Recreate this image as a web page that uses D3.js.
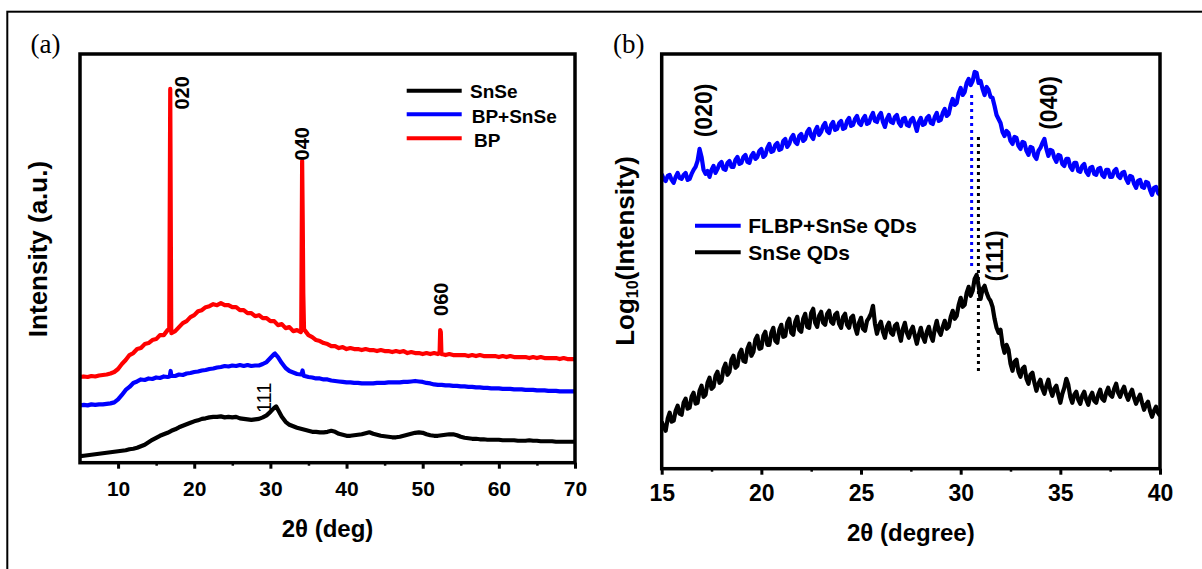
<!DOCTYPE html>
<html>
<head>
<meta charset="utf-8">
<script src="https://cdn.jsdelivr.net/npm/d3@7"></script>
<style>
  body { margin: 0; background: #fff; }
  svg { display: block; }
</style>
</head>
<body>
<svg id="fig" width="1202" height="569"></svg>
<script>
// ---------- Panel (a): XRD patterns, 2θ from 5° to 70° in 0.5° steps ----------
const angleStartA = 5, angleStepA = 0.5;
const seriesNamesA = ["SnSe", "BP+SnSe", "BP"];
const intensitySnSe = [
  65, 70, 75, 80, 85, 90, 95, 100, 105, 110,
  115, 120, 125, 135, 140, 150, 165, 180, 205, 230,
  250, 270, 285, 300, 320, 335, 355, 370, 385, 400,
  415, 425, 440, 445, 455, 460, 460, 465, 455, 460,
  455, 460, 445, 440, 435, 430, 435, 440, 455, 475,
  510, 550, 530, 460, 410, 380, 365, 350, 340, 330,
  320, 310, 310, 305, 305, 310, 320, 310, 290, 280,
  270, 270, 275, 280, 285, 295, 305, 290, 280, 270,
  265, 260, 255, 255, 260, 270, 280, 290, 300, 305,
  300, 285, 275, 270, 270, 275, 280, 285, 285, 275,
  260, 250, 245, 240, 240, 235, 235, 230, 230, 230,
  230, 225, 225, 225, 225, 220, 220, 220, 225, 220,
  220, 215, 215, 215, 215, 210, 210, 210, 210, 210,
  210
];
const intensityBPSnSe = [
  575, 580, 575, 585, 580, 585, 585, 590, 595, 605,
  635, 680, 730, 760, 800, 815, 835, 830, 845, 840,
  855, 850, 865, 860, 875, 870, 885, 880, 895, 900,
  910, 915, 925, 930, 940, 945, 955, 960, 970, 965,
  975, 970, 980, 970, 980, 970, 975, 975, 990, 1010,
  1050, 1090, 1060, 1000, 950, 920, 905, 890, 885, 870,
  860, 855, 845, 845, 835, 835, 825, 820, 815, 810,
  805, 805, 800, 800, 795, 795, 795, 795, 800, 800,
  800, 805, 805, 805, 805, 810, 810, 815, 820, 815,
  810, 800, 795, 785, 780, 780, 775, 775, 770, 770,
  765, 765, 760, 760, 755, 755, 750, 750, 745, 745,
  745, 740, 740, 740, 735, 735, 735, 730, 730, 730,
  725, 725, 725, 720, 720, 720, 715, 715, 715, 715,
  715
];
const intensityBP = [
  860, 865, 860, 870, 865, 875, 880, 885, 895, 910,
  940, 990, 1030, 1080, 1100, 1140, 1150, 1190, 1200, 1230,
  1240, 1280, 1280, 1330, 1300, 1320, 1360, 1400, 1420, 1460,
  1480, 1520, 1530, 1560, 1570, 1590, 1580, 1600, 1580, 1580,
  1560, 1560, 1530, 1530, 1500, 1500, 1470, 1480, 1450, 1450,
  1420, 1420, 1380, 1390, 1350, 1360, 1320, 1330, 1310, 1330,
  1280, 1260, 1230, 1220, 1200, 1190, 1170, 1170, 1150, 1160,
  1140, 1150, 1140, 1140, 1130, 1140, 1130, 1130, 1120, 1130,
  1120, 1120, 1110, 1120, 1110, 1120, 1100, 1110, 1100, 1100,
  1090, 1100, 1090, 1100, 1090, 1090, 1080, 1090, 1080, 1080,
  1080, 1080, 1070, 1080, 1070, 1080, 1070, 1070, 1070, 1070,
  1060, 1070, 1060, 1070, 1060, 1060, 1060, 1060, 1050, 1060,
  1050, 1060, 1050, 1050, 1050, 1050, 1040, 1050, 1040, 1040,
  1040
];
// sharp reflections sampled more finely: [2θ, intensity]
const peaksSnSe = [[30.75, 565]];
const peaksBPSnSe = [[16.78, 865], [16.9, 920], [17.02, 870], [30.6, 1095],
                     [34.1, 885], [34.22, 925], [34.36, 875]];
const peaksBP = [[16.72, 1340], [16.85, 3750], [16.98, 1320],
                 [34.05, 1320], [34.17, 3030], [34.25, 2400], [34.32, 1700], [34.42, 1330],
                 [52.22, 1100], [52.3, 1330], [52.38, 1310], [52.46, 1090]];
const ticksA = [10, 20, 30, 40, 50, 60, 70];
const minorTicksA = [15, 25, 35, 45, 55, 65];
// Miller-index labels: [text, 2θ, intensity at label centre, bold]
const labelsA = [["020", 18.4, 3710, true], ["040", 34.2, 3200, true],
                 ["060", 52.4, 1640, true], ["111", 29.2, 650, false]];

// ---------- Panel (b): log-scale patterns, 2θ from 15° to 40° in 0.1° steps ----------
const angleStartB = 15, angleStepB = 0.1;
const seriesNamesB = ["FLBP+SnSe QDs", "SnSe QDs"];
const logFLBPSnSe = [
  3.95, 3.90, 3.88, 3.93, 3.94, 3.89, 3.86, 3.92, 3.96, 3.91,
  3.90, 3.94, 3.96, 3.89, 3.90, 3.95, 3.99, 4.02, 4.08, 4.20,
  4.12, 3.99, 3.95, 3.98, 3.92, 3.99, 4.03, 3.96, 4.00, 4.05,
  4.07, 4.00, 3.99, 4.06, 4.08, 4.02, 4.02, 4.09, 4.12, 4.05,
  4.06, 4.12, 4.14, 4.07, 4.06, 4.13, 4.16, 4.10, 4.12, 4.18,
  4.20, 4.12, 4.14, 4.21, 4.25, 4.17, 4.18, 4.24, 4.26, 4.19,
  4.20, 4.28, 4.30, 4.22, 4.25, 4.31, 4.34, 4.27, 4.25, 4.33,
  4.35, 4.28, 4.30, 4.37, 4.40, 4.33, 4.30, 4.38, 4.42, 4.34,
  4.37, 4.43, 4.46, 4.38, 4.36, 4.44, 4.47, 4.39, 4.40, 4.46,
  4.48, 4.40, 4.41, 4.48, 4.51, 4.43, 4.44, 4.50, 4.53, 4.46,
  4.44, 4.50, 4.53, 4.45, 4.46, 4.52, 4.56, 4.48, 4.47, 4.53,
  4.56, 4.47, 4.42, 4.50, 4.54, 4.47, 4.46, 4.52, 4.54, 4.46,
  4.43, 4.50, 4.51, 4.44, 4.43, 4.49, 4.51, 4.45, 4.38, 4.47,
  4.51, 4.44, 4.45, 4.51, 4.53, 4.46, 4.45, 4.52, 4.56, 4.48,
  4.49, 4.56, 4.60, 4.53, 4.55, 4.64, 4.70, 4.64, 4.66, 4.76,
  4.81, 4.74, 4.77, 4.86, 4.90, 4.84, 4.88, 4.97, 4.96, 4.86,
  4.88, 4.80, 4.74, 4.82, 4.79, 4.72, 4.71, 4.63, 4.54, 4.50,
  4.46, 4.37, 4.33, 4.38, 4.36, 4.28, 4.25, 4.32, 4.31, 4.23,
  4.20, 4.27, 4.26, 4.18, 4.14, 4.22, 4.21, 4.13, 4.10, 4.18,
  4.21, 4.26, 4.30, 4.20, 4.13, 4.19, 4.18, 4.11, 4.07, 4.14,
  4.13, 4.05, 4.03, 4.10, 4.10, 4.02, 3.99, 4.06, 4.06, 3.98,
  3.97, 4.03, 4.05, 3.97, 3.94, 4.01, 4.02, 3.95, 3.94, 4.00,
  4.01, 3.94, 3.92, 3.99, 3.99, 3.92, 3.92, 3.98, 4.00, 3.93,
  3.91, 3.96, 3.97, 3.90, 3.86, 3.93, 3.92, 3.85, 3.81, 3.88,
  3.89, 3.82, 3.81, 3.87, 3.86, 3.79, 3.74, 3.81, 3.82, 3.76,
  3.74
];
const logSnSe = [
  1.47, 1.42, 1.38, 1.50, 1.56, 1.47, 1.48, 1.58, 1.63, 1.55,
  1.54, 1.66, 1.70, 1.60, 1.61, 1.72, 1.76, 1.65, 1.66, 1.78,
  1.83, 1.72, 1.74, 1.86, 1.91, 1.80, 1.82, 1.93, 1.97, 1.86,
  1.88, 2.00, 2.05, 1.94, 1.97, 2.09, 2.13, 2.01, 2.03, 2.15,
  2.19, 2.08, 2.07, 2.20, 2.25, 2.13, 2.17, 2.29, 2.33, 2.20,
  2.21, 2.33, 2.37, 2.24, 2.24, 2.36, 2.41, 2.28, 2.26, 2.39,
  2.44, 2.32, 2.33, 2.46, 2.50, 2.36, 2.34, 2.47, 2.52, 2.39,
  2.37, 2.50, 2.55, 2.42, 2.41, 2.56, 2.60, 2.46, 2.42, 2.53,
  2.57, 2.46, 2.44, 2.55, 2.58, 2.47, 2.45, 2.54, 2.56, 2.45,
  2.41, 2.52, 2.55, 2.44, 2.41, 2.51, 2.53, 2.42, 2.35, 2.46,
  2.51, 2.40, 2.38, 2.48, 2.51, 2.55, 2.63, 2.45, 2.35, 2.43,
  2.47, 2.37, 2.31, 2.42, 2.46, 2.36, 2.34, 2.43, 2.45, 2.36,
  2.28, 2.40, 2.46, 2.36, 2.31, 2.38, 2.42, 2.33, 2.25, 2.34,
  2.41, 2.32, 2.27, 2.37, 2.42, 2.33, 2.28, 2.40, 2.48, 2.38,
  2.34, 2.42, 2.48, 2.40, 2.42, 2.52, 2.58, 2.50, 2.53, 2.64,
  2.71, 2.62, 2.64, 2.76, 2.82, 2.73, 2.78, 2.90, 2.94, 2.83,
  2.70, 2.80, 2.83, 2.76, 2.71, 2.68, 2.62, 2.50, 2.41, 2.36,
  2.39, 2.24, 2.16, 2.24, 2.19, 2.05, 1.98, 2.07, 2.09, 1.97,
  1.92, 2.00, 2.02, 1.90, 1.85, 1.94, 1.96, 1.86, 1.78, 1.85,
  1.89, 1.80, 1.75, 1.83, 1.89, 1.79, 1.73, 1.80, 1.83, 1.74,
  1.66, 1.75, 1.81, 1.90, 1.84, 1.72, 1.66, 1.74, 1.77, 1.69,
  1.65, 1.73, 1.77, 1.69, 1.64, 1.72, 1.76, 1.68, 1.66, 1.74,
  1.79, 1.70, 1.68, 1.76, 1.81, 1.74, 1.72, 1.80, 1.85, 1.76,
  1.72, 1.78, 1.82, 1.74, 1.69, 1.75, 1.79, 1.71, 1.65, 1.70,
  1.74, 1.66, 1.59, 1.64, 1.67, 1.58, 1.52, 1.58, 1.62, 1.56,
  1.53
];
const ticksB = [15, 20, 25, 30, 35, 40];
const minorTicksB = [17.5, 22.5, 27.5, 32.5, 37.5];
const labelsB = [["(020)", 17.12, 4.585], ["(040)", 34.43, 4.66], ["(111)", 31.7, 3.13]];
// (111) peak positions marked with dotted guides: [2θ, from, to, colour]
const peakGuides = [[30.55, 4.74, 3.01, "#0000ff"], [30.89, 4.32, 1.96, "#000000"]];

// ---------- drawing ----------
const svg = d3.select("#fig");
const FONT = "'Liberation Sans', Arial, sans-serif";
const SERIF = "'Liberation Serif', 'Times New Roman', serif";

// outer figure frame
svg.append("rect").attr("x", 7.3).attr("y", 11.7).attr("width", 1220).attr("height", 600)
  .attr("fill", "none").attr("stroke", "#000").attr("stroke-width", 2);

function buildSeries(start, step, vals, extra) {
  const pts = vals.map((v, i) => [start + i * step, v]);
  (extra || []).forEach(p => pts.push(p));
  pts.sort((a, b) => a[0] - b[0]);
  return pts;
}

function drawPanel(cfg) {
  const g = svg.append("g");
  const x = d3.scaleLinear().domain(cfg.xDomain).range([cfg.left, cfg.right]);
  const y = d3.scaleLinear().domain(cfg.yDomain).range([cfg.bottom, cfg.top]);
  const clipId = "clip-" + cfg.id;
  svg.append("clipPath").attr("id", clipId).append("rect")
    .attr("x", cfg.left).attr("y", cfg.top)
    .attr("width", cfg.right - cfg.left).attr("height", cfg.bottom - cfg.top);

  const line = d3.line().x(d => x(d[0])).y(d => y(d[1]));
  const curves = g.append("g").attr("clip-path", `url(#${clipId})`);
  cfg.series.forEach(s => {
    curves.append("path").datum(s.points)
      .attr("fill", "none").attr("stroke", s.color)
      .attr("stroke-width", cfg.lineWidth).attr("stroke-linejoin", "round")
      .attr("d", line);
  });

  // bottom axis: major ticks with labels, minor ticks without
  const axMajor = g.append("g").attr("transform", `translate(0,${cfg.bottom})`)
    .call(d3.axisBottom(x).tickValues(cfg.ticks).tickSize(6).tickPadding(cfg.tickPad)
      .tickFormat(d3.format("d")));
  axMajor.select(".domain").remove();
  axMajor.selectAll(".tick line").attr("stroke", "#000").attr("stroke-width", 3);
  axMajor.selectAll(".tick text").attr("font-family", FONT).attr("font-weight", "bold")
    .attr("font-size", cfg.tickFont).attr("fill", "#000");
  const axMinor = g.append("g").attr("transform", `translate(0,${cfg.bottom})`)
    .call(d3.axisBottom(x).tickValues(cfg.minorTicks).tickSize(3).tickFormat(""));
  axMinor.select(".domain").remove();
  axMinor.selectAll(".tick line").attr("stroke", "#000").attr("stroke-width", 2.5);

  // plot frame
  g.append("rect").attr("x", cfg.left).attr("y", cfg.top)
    .attr("width", cfg.right - cfg.left).attr("height", cfg.bottom - cfg.top)
    .attr("fill", "none").attr("stroke", "#000").attr("stroke-width", 3.5);

  // axis titles
  g.append("text").attr("x", (cfg.left + cfg.right) / 2).attr("y", cfg.xTitleY)
    .attr("text-anchor", "middle").attr("font-family", FONT).attr("font-weight", "bold")
    .attr("font-size", cfg.xTitleFont).text(cfg.xTitle);
  const yt = g.append("text")
    .attr("transform", `translate(${cfg.yTitleX},${cfg.yTitleY}) rotate(-90)`)
    .attr("text-anchor", "middle").attr("dominant-baseline", "central")
    .attr("font-family", FONT).attr("font-weight", "bold").attr("font-size", 26);
  cfg.yTitle(yt);

  // panel letter
  g.append("text").attr("x", cfg.letterX).attr("y", 53)
    .attr("font-family", SERIF).attr("font-size", 27).text(cfg.letter);
  return { g, x, y };
}

// ----- panel (a)
const pa = drawPanel({
  id: "a", left: 80, right: 575, top: 54, bottom: 462.7,
  xDomain: [5, 70], yDomain: [0, 4100], lineWidth: 4.2,
  ticks: ticksA, minorTicks: minorTicksA, tickPad: 12, tickFont: 21,
  xTitle: "2θ (deg)", xTitleY: 537, xTitleFont: 24,
  yTitleX: 37.5, yTitleY: 249,
  yTitle: t => t.text("Intensity (a.u.)"),
  letter: "(a)", letterX: 30.5,
  series: [
    { points: buildSeries(angleStartA, angleStepA, intensityBP, peaksBP), color: "#ff0000" },
    { points: buildSeries(angleStartA, angleStepA, intensityBPSnSe, peaksBPSnSe), color: "#0000ff" },
    { points: buildSeries(angleStartA, angleStepA, intensitySnSe, peaksSnSe), color: "#000000" }
  ]
});
labelsA.forEach(([txt, ang, val, bold]) => {
  pa.g.append("text")
    .attr("transform", `translate(${pa.x(ang)},${pa.y(val)}) rotate(-90)`)
    .attr("text-anchor", "middle").attr("dominant-baseline", "central")
    .attr("font-family", FONT).attr("font-weight", bold ? "bold" : "normal")
    .attr("font-size", 20).text(txt);
});
// legend (a)
const legendA = [[seriesNamesA[0], "#000000", 90.7, 98.3, 470],
                 [seriesNamesA[1], "#0000ff", 114.3, 123, 471.7],
                 [seriesNamesA[2], "#ff0000", 138.3, 147, 474]];
legendA.forEach(([name, col, ly, ty, tx]) => {
  pa.g.append("line").attr("x1", 406.7).attr("x2", 461.7).attr("y1", ly).attr("y2", ly)
    .attr("stroke", col).attr("stroke-width", 4);
  pa.g.append("text").attr("x", tx).attr("y", ty).attr("font-family", FONT)
    .attr("font-weight", "bold").attr("font-size", 19).text(name);
});

// ----- panel (b)
const pb = drawPanel({
  id: "b", left: 661.7, right: 1160, top: 54, bottom: 468.7,
  xDomain: [15, 40], yDomain: [1, 5.15], lineWidth: 4.2,
  ticks: ticksB, minorTicks: minorTicksB, tickPad: 10, tickFont: 23,
  xTitle: "2θ (degree)", xTitleY: 540.5, xTitleFont: 24,
  yTitleX: 624.5, yTitleY: 251,
  yTitle: t => {
    t.append("tspan").text("Log");
    t.append("tspan").attr("font-size", 16).attr("dy", 7).text("10");
    t.append("tspan").attr("dy", -7).text("(Intensity)");
  },
  letter: "(b)", letterX: 613,
  series: [
    { points: buildSeries(angleStartB, angleStepB, logFLBPSnSe), color: "#0000ff" },
    { points: buildSeries(angleStartB, angleStepB, logSnSe), color: "#000000" }
  ]
});
peakGuides.forEach(([ang, from, to, col]) => {
  pb.g.append("line").attr("x1", pb.x(ang)).attr("x2", pb.x(ang))
    .attr("y1", pb.y(from)).attr("y2", pb.y(to))
    .attr("stroke", col).attr("stroke-width", 3).attr("stroke-dasharray", "3,4");
});
labelsB.forEach(([txt, ang, val]) => {
  pb.g.append("text")
    .attr("transform", `translate(${pb.x(ang)},${pb.y(val)}) rotate(-90)`)
    .attr("text-anchor", "middle").attr("dominant-baseline", "central")
    .attr("font-family", FONT).attr("font-weight", "bold")
    .attr("font-size", 23).text(txt);
});
const legendB = [[seriesNamesB[0], "#0000ff", 225.7, 233.3], [seriesNamesB[1], "#000000", 252.3, 260]];
legendB.forEach(([name, col, ly, ty]) => {
  pb.g.append("line").attr("x1", 695).attr("x2", 740.7).attr("y1", ly).attr("y2", ly)
    .attr("stroke", col).attr("stroke-width", 4);
  pb.g.append("text").attr("x", 748.3).attr("y", ty).attr("font-family", FONT)
    .attr("font-weight", "bold").attr("font-size", 21).text(name);
});
</script>
</body>
</html>
